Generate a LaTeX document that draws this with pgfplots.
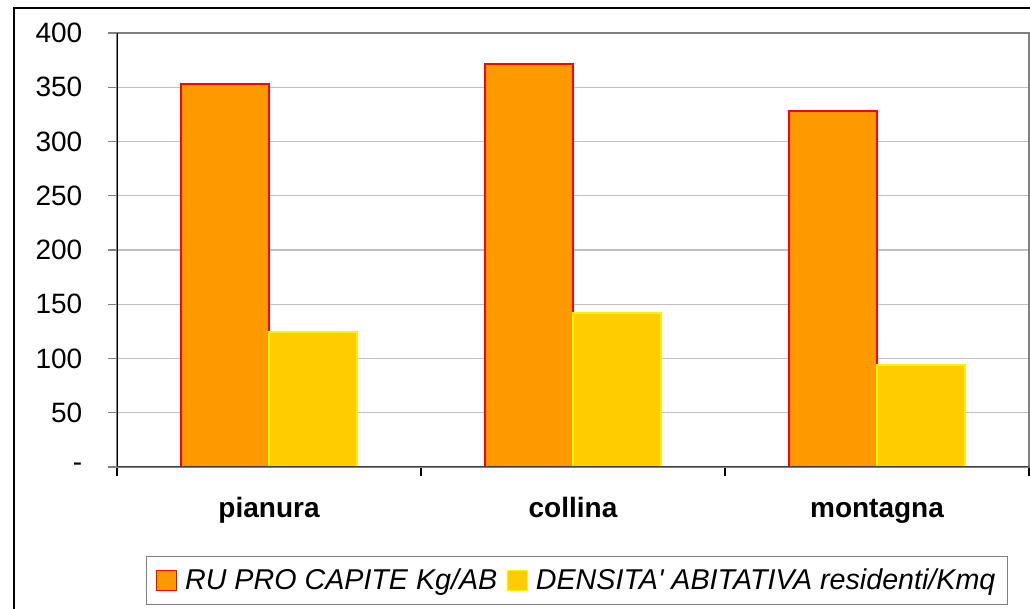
\documentclass[border=0pt]{standalone}
\usepackage{pgfplots}
\pgfplotsset{compat=1.18}
\usepackage{fontspec}
\setmainfont{Liberation Sans}
\definecolor{ruorange}{HTML}{FF9900}
\definecolor{densyellow}{HTML}{FFCC00}
\definecolor{gridgray}{HTML}{C0C0C0}

\begin{document}
\begin{tikzpicture}
% page frame 1030 x 609 px, 1 px = 0.75pt
\useasboundingbox (0pt,0pt) rectangle (772.5pt,456.75pt);
\draw[line width=1.2pt] (10.5pt,0pt) -- (10.5pt,450.75pt) -- (772.5pt,450.75pt);
\begin{axis}[
    at={(87.75pt,106.5pt)}, anchor=origin,
    scale only axis,
    width=684pt, height=325.5pt,
    ybar=0pt, bar width=66pt,
    xmin=0.5, xmax=3.5,
    ymin=0, ymax=400,
    xtick={0.5,1.5,2.5,3.5},
    x tick label as interval,
    xticklabels={pianura,collina,montagna},
    xticklabel style={font=\fontsize{21}{25}\selectfont\bfseries, yshift=-20pt,
        text depth=0.25em, text height=0.75em},
    ytick={0,50,...,400},
    yticklabels={-,50,100,150,200,250,300,350,400},
    yticklabel style={font=\fontsize{21}{25}\selectfont, xshift=-16pt},
    /pgf/number format/assume math mode=true,
    xtick pos=bottom, ytick pos=left,
    tick align=outside,
    major tick length=6.5pt,
    xtick style={black, line width=0.9pt},
    ytick style={gray, line width=0.9pt},
    ymajorgrids=true,
    grid style={gridgray, line width=0.9pt},
    axis line style={draw=gray, line width=1.2pt},
    legend columns=2,
    legend style={at={(0.5044,-0.2615)}, anchor=center,
        draw=gray, line width=0.9pt,
        font=\fontsize{21.5}{25}\selectfont\itshape,
        inner xsep=7pt, inner ysep=7.5pt,
        /tikz/every even column/.append style={column sep=5pt}},
    legend image code/.code={\draw[#1, line width=0.9pt] (0pt,-7.5pt) rectangle (15pt,7.5pt);},
]
\addplot[fill=ruorange, draw=red, line width=1pt]
    coordinates {(1,353) (2,371.5) (3,328)};
\addlegendentry{\hspace{4pt}RU PRO CAPITE Kg/AB}
\addplot[fill=densyellow, draw=yellow, line width=1pt]
    coordinates {(1,124.5) (2,142) (3,94)};
\addlegendentry{\hspace{4pt}DENSITA\textquotesingle{} ABITATIVA residenti/Kmq\hspace{8pt}}
\draw[black, line width=1pt] (rel axis cs:0,0) -- (rel axis cs:0,1);
\draw[black!75, line width=1.6pt] (rel axis cs:0,0) -- (rel axis cs:1,0);
\end{axis}
\end{tikzpicture}
\end{document}
